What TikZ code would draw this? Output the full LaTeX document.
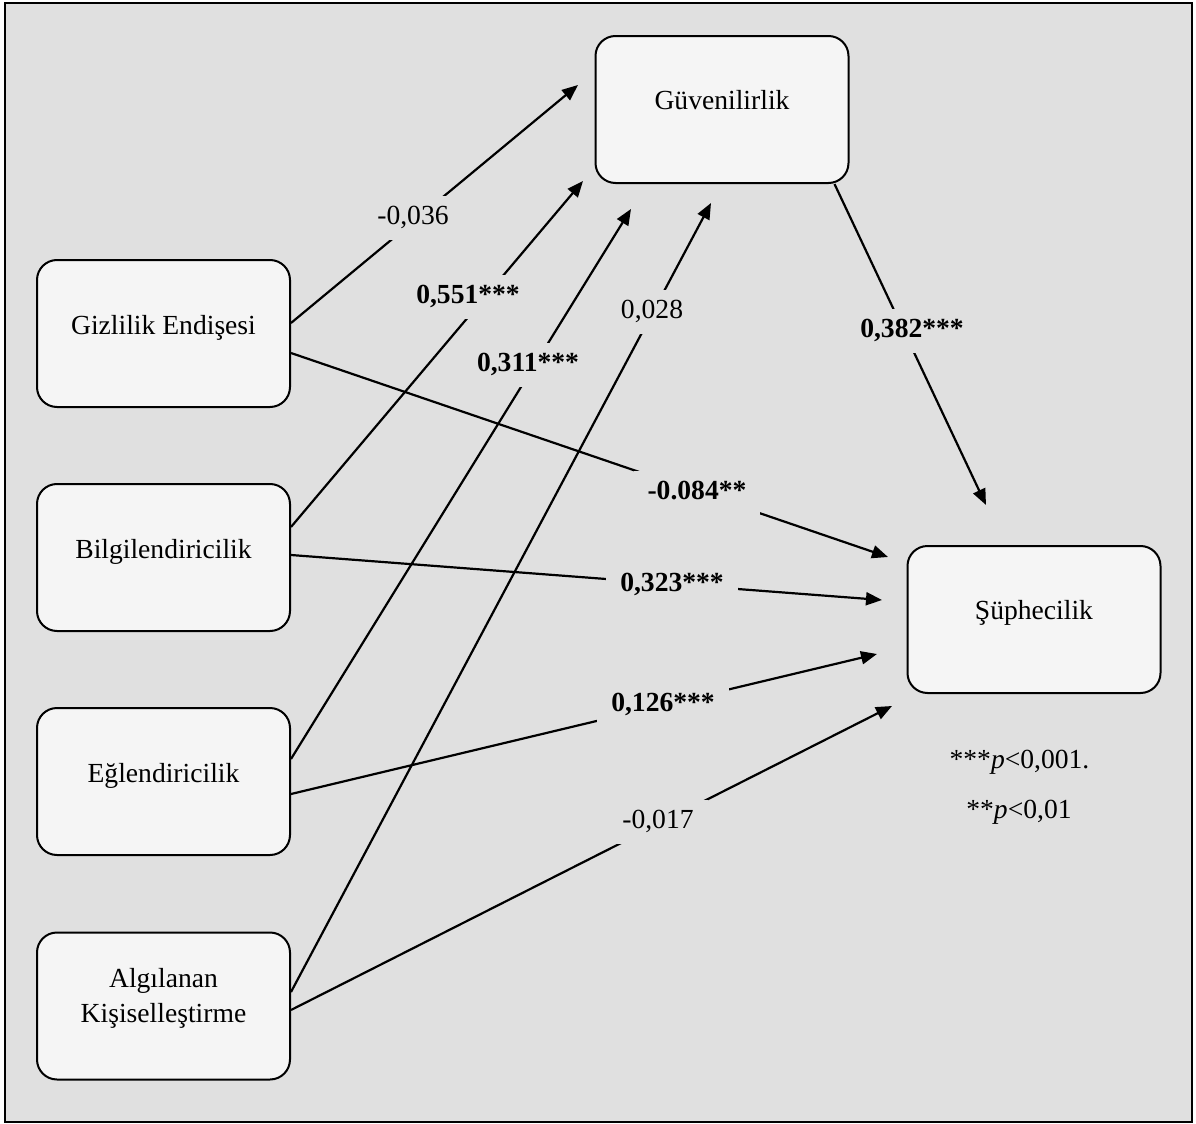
\documentclass[tikz,border=0pt]{standalone}
\usepackage{fontspec}
\setmainfont{Liberation Serif}
\usetikzlibrary{arrows.meta,calc}
\definecolor{bgc}{HTML}{E0E0E0}
\definecolor{boxc}{HTML}{F5F5F5}
\begin{document}
\begin{tikzpicture}[x=0.5pt,y=-0.5pt,
  every node/.style={font=\fontsize{13.8}{17.5}\selectfont},
  var/.style={draw=black, line width=1pt, fill=boxc, rounded corners=10pt,
              minimum width=126.5pt, minimum height=73.5pt, inner sep=0pt},
  vtext/.style={anchor=base, inner sep=0pt},
  conn/.style={draw, line width=1.1pt, -{Triangle[length=8pt,width=6.5pt]}},
  coef/.style={fill=bgc, inner xsep=7pt, inner ysep=7.5pt, text height=0.66em, text depth=0pt},
  legend/.style={anchor=base, inner sep=0pt}
]
\useasboundingbox (0,0) rectangle (1196,1124);
\draw[line width=1pt, fill=bgc] (5,3) rectangle (1192,1122);

% boxes
\node[var] (giz) at (163.5,333.5) {};
\node[var] (bil) at (163.5,557.5) {};
\node[var] (egl) at (163.5,781.5) {};
\node[var] (alg) at (163.5,1006) {};
\node[var] (guv) at (722,109.5) {};
\node[var] (sup) at (1034,619.5) {};

% arrow tips
\coordinate (t1) at (578,85);
\coordinate (t2) at (583,181);
\coordinate (t3) at (631,209);
\coordinate (t4) at (711,203);
\coordinate (t5) at (986,505);
\coordinate (t6) at (888,557);
\coordinate (t7) at (882,600);
\coordinate (t8) at (877,654);
\coordinate (t9) at (892,706);

% connectors
\draw[conn] ($(giz.east)+(0,-10.5)$) -- (t1);
\draw[conn] ($(bil.east)+(0,-30.5)$) -- (t2);
\draw[conn] ($(egl.east)+(0,-22.5)$) -- (t3);
\draw[conn] ($(alg.east)+(0,-14)$) -- (t4);
\draw[conn] ($(guv.south east)+(-15,0)$) -- (t5);
\draw[conn] ($(giz.east)+(0,19.5)$) -- (t6);
\draw[conn] ($(bil.east)+(0,-2.5)$) -- (t7);
\draw[conn] ($(egl.east)+(0,12.5)$) -- (t8);
\draw[conn] ($(alg.east)+(0,4)$) -- (t9);

% coefficients
\node[coef] (c1) at (413,218) {-0,036};
\node[coef] (c2) at (468,297) {\textbf{0,551***}};
\node[coef] (c3) at (528,365) {\textbf{0,311***}};
\node[coef] (c4) at (652,312) {0,028};
\node[coef] (c5) at (912,331) {\textbf{0,382***}};
\node[coef] (c6) at (697,493) {\textbf{-0.084**}};
\node[coef] (c7) at (672,585) {\textbf{0,323***}};
\node[coef] (c8) at (663,705) {\textbf{0,126***}};
\node[coef] (c9) at (658,822) {-0,017};

% box texts
\node[vtext] (lgiz) at (163.5,334) {Gizlilik Endişesi};
\node[vtext] (lbil) at (163.5,558) {Bilgilendiricilik};
\node[vtext] (legl) at (163.5,782) {Eğlendiricilik};
\node[vtext] (lalg1) at (163.5,987) {Algılanan};
\node[vtext] (lalg2) at (163.5,1022) {Kişiselleştirme};
\node[vtext] (lguv) at (722,109) {Güvenilirlik};
\node[vtext] (lsup) at (1034,619) {Şüphecilik};

% legend
\node[legend] (p1) at (1019.5,768) {***\textit{p}<0,001.};
\node[legend] (p2) at (1019,818) {**\textit{p}<0,01};
\end{tikzpicture}
\end{document}
